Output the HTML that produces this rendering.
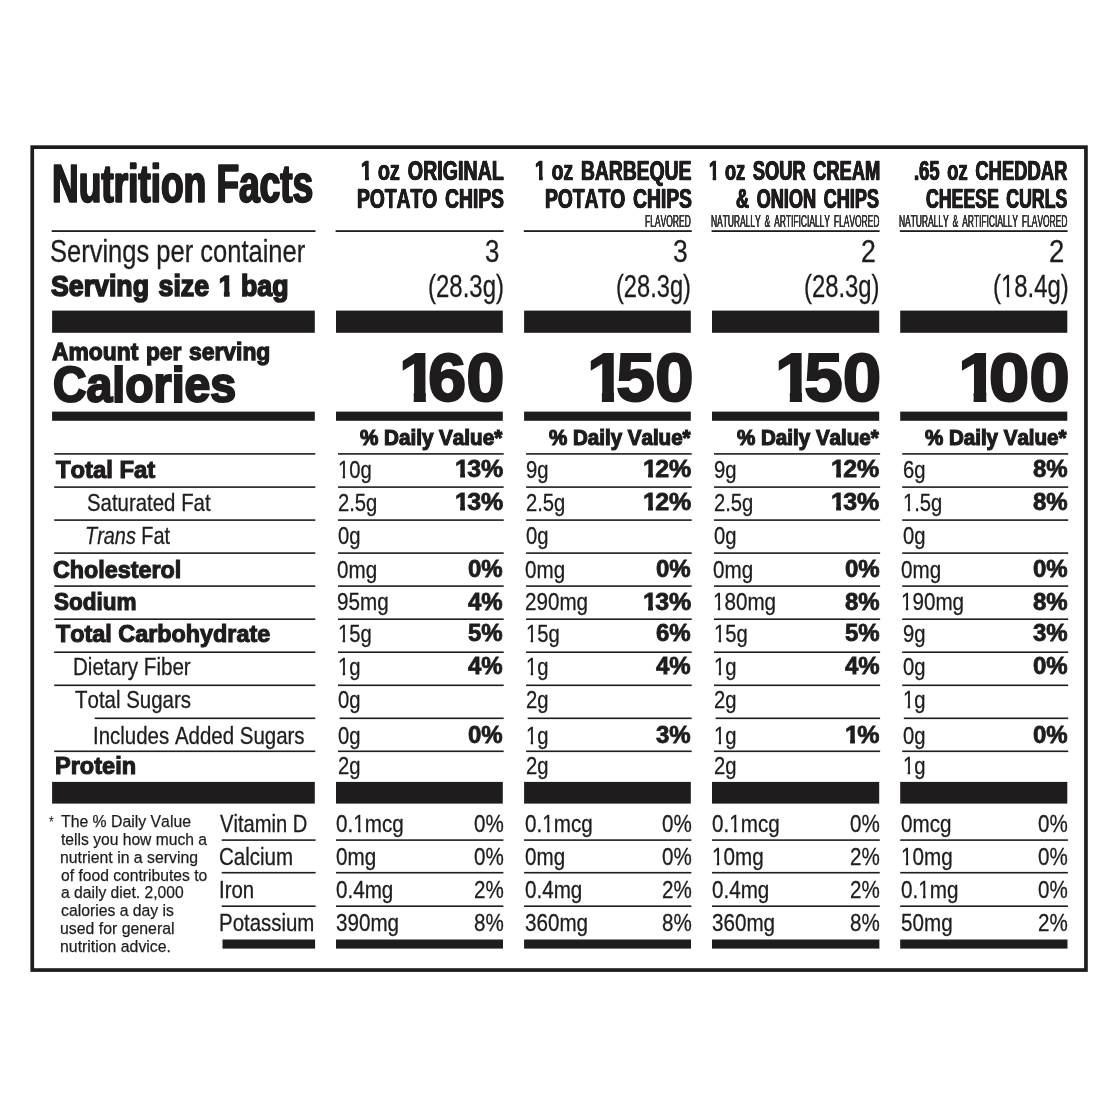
<!DOCTYPE html>
<html lang="en"><head><meta charset="utf-8"><title>Nutrition Facts</title>
<style>
html,body{margin:0;padding:0;background:#fff}
body{width:1118px;height:1118px;position:relative;overflow:hidden;font-family:"Liberation Sans",Arial,Helvetica,sans-serif;color:#1f1c1d;font-kerning:none}
.label{position:absolute;left:0;top:0;width:1118px;height:1118px;will-change:transform}
.rules{position:absolute;left:0;top:0}
.t{position:absolute;white-space:pre;transform-origin:0 0;line-height:1;margin:0}
.b{font-weight:bold}.i{font-style:italic}
.one{display:inline-block}
</style></head><body>
<div class="label">
<svg class="rules" width="1118" height="1118" viewBox="0 0 1118 1118" fill="#1f1c1d">
<rect x="51.70" y="230.20" width="263.80" height="1.80"/>
<rect x="335.60" y="230.20" width="168.00" height="1.80"/>
<rect x="523.80" y="230.20" width="168.00" height="1.80"/>
<rect x="711.60" y="230.20" width="168.00" height="1.80"/>
<rect x="899.90" y="230.20" width="167.70" height="1.80"/>
<rect x="52.10" y="310.60" width="262.70" height="22.20"/>
<rect x="336.00" y="310.60" width="166.80" height="22.20"/>
<rect x="524.10" y="310.60" width="166.70" height="22.20"/>
<rect x="712.00" y="310.60" width="167.20" height="22.20"/>
<rect x="900.20" y="310.60" width="167.10" height="22.20"/>
<rect x="52.10" y="411.60" width="262.70" height="9.20"/>
<rect x="336.00" y="411.60" width="166.80" height="9.20"/>
<rect x="524.10" y="411.60" width="166.70" height="9.20"/>
<rect x="712.00" y="411.60" width="167.20" height="9.20"/>
<rect x="900.20" y="411.60" width="167.10" height="9.20"/>
<rect x="54.20" y="453.10" width="261.10" height="1.60"/>
<rect x="338.00" y="453.10" width="165.70" height="1.60"/>
<rect x="526.10" y="453.10" width="165.60" height="1.60"/>
<rect x="714.00" y="453.10" width="166.10" height="1.60"/>
<rect x="902.20" y="453.10" width="166.00" height="1.60"/>
<rect x="54.20" y="486.30" width="261.10" height="1.60"/>
<rect x="338.00" y="486.30" width="165.70" height="1.60"/>
<rect x="526.10" y="486.30" width="165.60" height="1.60"/>
<rect x="714.00" y="486.30" width="166.10" height="1.60"/>
<rect x="902.20" y="486.30" width="166.00" height="1.60"/>
<rect x="54.20" y="519.30" width="261.10" height="1.60"/>
<rect x="338.00" y="519.30" width="165.70" height="1.60"/>
<rect x="526.10" y="519.30" width="165.60" height="1.60"/>
<rect x="714.00" y="519.30" width="166.10" height="1.60"/>
<rect x="902.20" y="519.30" width="166.00" height="1.60"/>
<rect x="54.20" y="552.30" width="261.10" height="1.60"/>
<rect x="338.00" y="552.30" width="165.70" height="1.60"/>
<rect x="526.10" y="552.30" width="165.60" height="1.60"/>
<rect x="714.00" y="552.30" width="166.10" height="1.60"/>
<rect x="902.20" y="552.30" width="166.00" height="1.60"/>
<rect x="54.20" y="585.30" width="261.10" height="1.60"/>
<rect x="338.00" y="585.30" width="165.70" height="1.60"/>
<rect x="526.10" y="585.30" width="165.60" height="1.60"/>
<rect x="714.00" y="585.30" width="166.10" height="1.60"/>
<rect x="902.20" y="585.30" width="166.00" height="1.60"/>
<rect x="54.20" y="618.40" width="261.10" height="1.60"/>
<rect x="338.00" y="618.40" width="165.70" height="1.60"/>
<rect x="526.10" y="618.40" width="165.60" height="1.60"/>
<rect x="714.00" y="618.40" width="166.10" height="1.60"/>
<rect x="902.20" y="618.40" width="166.00" height="1.60"/>
<rect x="54.20" y="651.40" width="261.10" height="1.60"/>
<rect x="338.00" y="651.40" width="165.70" height="1.60"/>
<rect x="526.10" y="651.40" width="165.60" height="1.60"/>
<rect x="714.00" y="651.40" width="166.10" height="1.60"/>
<rect x="902.20" y="651.40" width="166.00" height="1.60"/>
<rect x="54.20" y="684.50" width="261.10" height="1.60"/>
<rect x="338.00" y="684.50" width="165.70" height="1.60"/>
<rect x="526.10" y="684.50" width="165.60" height="1.60"/>
<rect x="714.00" y="684.50" width="166.10" height="1.60"/>
<rect x="902.20" y="684.50" width="166.00" height="1.60"/>
<rect x="94.70" y="717.50" width="220.60" height="1.60"/>
<rect x="339.60" y="717.50" width="164.10" height="1.60"/>
<rect x="527.70" y="717.50" width="164.00" height="1.60"/>
<rect x="715.60" y="717.50" width="164.50" height="1.60"/>
<rect x="903.80" y="717.50" width="164.40" height="1.60"/>
<rect x="54.20" y="750.50" width="261.10" height="1.60"/>
<rect x="338.00" y="750.50" width="165.70" height="1.60"/>
<rect x="526.10" y="750.50" width="165.60" height="1.60"/>
<rect x="714.00" y="750.50" width="166.10" height="1.60"/>
<rect x="902.20" y="750.50" width="166.00" height="1.60"/>
<rect x="52.10" y="781.90" width="262.70" height="21.70"/>
<rect x="336.00" y="781.90" width="166.80" height="21.70"/>
<rect x="524.10" y="781.90" width="166.70" height="21.70"/>
<rect x="712.00" y="781.90" width="167.20" height="21.70"/>
<rect x="900.20" y="781.90" width="167.10" height="21.70"/>
<rect x="221.70" y="839.30" width="93.90" height="1.60"/>
<rect x="336.00" y="839.30" width="167.40" height="1.60"/>
<rect x="524.10" y="839.30" width="167.30" height="1.60"/>
<rect x="712.00" y="839.30" width="167.80" height="1.60"/>
<rect x="900.20" y="839.30" width="167.70" height="1.60"/>
<rect x="221.70" y="871.90" width="93.90" height="1.60"/>
<rect x="336.00" y="871.90" width="167.40" height="1.60"/>
<rect x="524.10" y="871.90" width="167.30" height="1.60"/>
<rect x="712.00" y="871.90" width="167.80" height="1.60"/>
<rect x="900.20" y="871.90" width="167.70" height="1.60"/>
<rect x="221.70" y="905.40" width="93.90" height="1.60"/>
<rect x="336.00" y="905.40" width="167.40" height="1.60"/>
<rect x="524.10" y="905.40" width="167.30" height="1.60"/>
<rect x="712.00" y="905.40" width="167.80" height="1.60"/>
<rect x="900.20" y="905.40" width="167.70" height="1.60"/>
<rect x="222.50" y="939.50" width="92.60" height="9.10"/>
<rect x="336.00" y="939.50" width="167.00" height="9.10"/>
<rect x="524.10" y="939.50" width="166.90" height="9.10"/>
<rect x="712.00" y="939.50" width="167.40" height="9.10"/>
<rect x="900.20" y="939.50" width="167.30" height="9.10"/>
<rect x="32.25" y="147.15" width="1053.7" height="822.9" fill="none" stroke="#1f1c1d" stroke-width="3.7"/>
</svg>
<div class="t b" style="left:51.97px;top:156px;font-size:54.10px;transform:scaleX(0.6843);-webkit-text-stroke:1.60px #1f1c1d;text-shadow:1.17px 0 0 #1f1c1d,-1.17px 0 0 #1f1c1d">Nutrition Facts</div>
<div class="t b" style="left:360.67px;top:157px;font-size:27.40px;transform:scaleX(0.7179);-webkit-text-stroke:0.60px #1f1c1d;text-shadow:0.56px 0 0 #1f1c1d,-0.56px 0 0 #1f1c1d;word-spacing:3.48px"><span class="one" style="clip-path:polygon(-9px -9px,10.75px -9px,10.75px 37.40px,5.80px 37.40px,5.80px 18.80px,-9px 18.80px);margin-right:-0.100em">1</span> oz ORIGINAL</div>
<div class="t b" style="left:535.49px;top:157px;font-size:27.40px;transform:scaleX(0.7046);-webkit-text-stroke:0.60px #1f1c1d;text-shadow:0.57px 0 0 #1f1c1d,-0.57px 0 0 #1f1c1d;word-spacing:3.55px"><span class="one" style="clip-path:polygon(-9px -9px,10.75px -9px,10.75px 37.40px,5.80px 37.40px,5.80px 18.80px,-9px 18.80px);margin-right:-0.100em">1</span> oz BARBEQUE</div>
<div class="t b" style="left:708.65px;top:157px;font-size:27.40px;transform:scaleX(0.6674);-webkit-text-stroke:0.60px #1f1c1d;text-shadow:0.60px 0 0 #1f1c1d,-0.60px 0 0 #1f1c1d;word-spacing:3.75px"><span class="one" style="clip-path:polygon(-9px -9px,10.75px -9px,10.75px 37.40px,5.80px 37.40px,5.80px 18.80px,-9px 18.80px);margin-right:-0.100em">1</span> oz SOUR CREAM</div>
<div class="t b" style="left:913.95px;top:157px;font-size:27.40px;transform:scaleX(0.6724);-webkit-text-stroke:0.60px #1f1c1d;text-shadow:0.59px 0 0 #1f1c1d,-0.59px 0 0 #1f1c1d;word-spacing:3.72px">.65 oz CHEDDAR</div>
<div class="t b" style="left:357.02px;top:185px;font-size:27.40px;transform:scaleX(0.7032);-webkit-text-stroke:0.60px #1f1c1d;text-shadow:0.57px 0 0 #1f1c1d,-0.57px 0 0 #1f1c1d;word-spacing:3.56px">POTATO CHIPS</div>
<div class="t b" style="left:544.92px;top:185px;font-size:27.40px;transform:scaleX(0.7032);-webkit-text-stroke:0.60px #1f1c1d;text-shadow:0.57px 0 0 #1f1c1d,-0.57px 0 0 #1f1c1d;word-spacing:3.56px">POTATO CHIPS</div>
<div class="t b" style="left:736.30px;top:185px;font-size:27.40px;transform:scaleX(0.6622);-webkit-text-stroke:0.60px #1f1c1d;text-shadow:0.60px 0 0 #1f1c1d,-0.60px 0 0 #1f1c1d;word-spacing:3.78px">&amp; ONION CHIPS</div>
<div class="t b" style="left:926.37px;top:185px;font-size:27.40px;transform:scaleX(0.6467);-webkit-text-stroke:0.60px #1f1c1d;text-shadow:0.62px 0 0 #1f1c1d,-0.62px 0 0 #1f1c1d;word-spacing:3.87px">CHEESE CURLS</div>
<div class="t" style="left:645.33px;top:214px;font-size:16.80px;transform:scaleX(0.5064);color:#343132;-webkit-text-stroke:0.10px #343132;text-shadow:0.20px 0 0 #343132,-0.20px 0 0 #343132">FLAVORED</div>
<div class="t" style="left:711.03px;top:214px;font-size:16.80px;transform:scaleX(0.5026);color:#343132;-webkit-text-stroke:0.10px #343132;text-shadow:0.20px 0 0 #343132,-0.20px 0 0 #343132;word-spacing:3.18px">NATURALLY &amp; ARTIFICIALLY FLAVORED</div>
<div class="t" style="left:899.33px;top:214px;font-size:16.80px;transform:scaleX(0.5026);color:#343132;-webkit-text-stroke:0.10px #343132;text-shadow:0.20px 0 0 #343132,-0.20px 0 0 #343132;word-spacing:3.18px">NATURALLY &amp; ARTIFICIALLY FLAVORED</div>
<div class="t" style="left:50.16px;top:235px;font-size:32.00px;transform:scaleX(0.7972);-webkit-text-stroke:0.30px #1f1c1d">Servings per container</div>
<div class="t b" style="left:51.18px;top:270px;font-size:30.40px;transform:scaleX(0.8788);-webkit-text-stroke:1.70px #1f1c1d;word-spacing:2.50px">Serving size <span class="one" style="clip-path:polygon(-9px -9px,12.42px -9px,12.42px 40.40px,5.95px 40.40px,5.95px 20.95px,-9px 20.95px);margin-right:-0.080em">1</span> bag</div>
<div class="t" style="left:485.14px;top:235px;font-size:32.00px;transform:scaleX(0.8079);-webkit-text-stroke:0.30px #1f1c1d">3</div>
<div class="t" style="left:673.02px;top:235px;font-size:32.00px;transform:scaleX(0.8273);-webkit-text-stroke:0.30px #1f1c1d">3</div>
<div class="t" style="left:861.08px;top:235px;font-size:32.00px;transform:scaleX(0.8334);-webkit-text-stroke:0.30px #1f1c1d">2</div>
<div class="t" style="left:1049.34px;top:235px;font-size:32.00px;transform:scaleX(0.8603);-webkit-text-stroke:0.30px #1f1c1d">2</div>
<div class="t" style="left:428.33px;top:270px;font-size:32.00px;transform:scaleX(0.7491);-webkit-text-stroke:0.30px #1f1c1d">(28.3g)</div>
<div class="t" style="left:616.44px;top:270px;font-size:32.00px;transform:scaleX(0.7388);-webkit-text-stroke:0.30px #1f1c1d">(28.3g)</div>
<div class="t" style="left:804.33px;top:270px;font-size:32.00px;transform:scaleX(0.7450);-webkit-text-stroke:0.30px #1f1c1d">(28.3g)</div>
<div class="t" style="left:992.63px;top:270px;font-size:32.00px;transform:scaleX(0.7480);-webkit-text-stroke:0.30px #1f1c1d">(<span class="one" style="clip-path:polygon(-9px -9px,11.32px -9px,11.32px 42.00px,7.60px 42.00px,7.60px 23.36px,-9px 23.36px)">1</span>8.4g)</div>
<div class="t b" style="left:52.24px;top:340px;font-size:24.50px;transform:scaleX(0.9320);-webkit-text-stroke:1.30px #1f1c1d;word-spacing:1.39px">Amount per serving</div>
<div class="t b" style="left:52.82px;top:361px;font-size:49.80px;transform:scaleX(0.9320);-webkit-text-stroke:2.20px #1f1c1d">Calories</div>
<div class="t b" style="left:399.09px;top:343px;font-size:69.00px;transform:scaleX(0.9984);-webkit-text-stroke:2.00px #1f1c1d"><span class="one" style="clip-path:polygon(-9px -9px,26.87px -9px,26.87px 79.00px,14.80px 79.00px,14.80px 48.86px,-9px 48.86px);margin-right:-0.135em">1</span>60</div>
<div class="t b" style="left:586.65px;top:343px;font-size:69.00px;transform:scaleX(1.0074);-webkit-text-stroke:2.00px #1f1c1d"><span class="one" style="clip-path:polygon(-9px -9px,26.87px -9px,26.87px 79.00px,14.80px 79.00px,14.80px 48.86px,-9px 48.86px);margin-right:-0.135em">1</span>50</div>
<div class="t b" style="left:775.17px;top:343px;font-size:69.00px;transform:scaleX(1.0034);-webkit-text-stroke:2.00px #1f1c1d"><span class="one" style="clip-path:polygon(-9px -9px,26.87px -9px,26.87px 79.00px,14.80px 79.00px,14.80px 48.86px,-9px 48.86px);margin-right:-0.135em">1</span>50</div>
<div class="t b" style="left:957.76px;top:343px;font-size:69.00px;transform:scaleX(1.0582);-webkit-text-stroke:2.00px #1f1c1d"><span class="one" style="clip-path:polygon(-9px -9px,26.87px -9px,26.87px 79.00px,14.80px 79.00px,14.80px 48.86px,-9px 48.86px);margin-right:-0.135em">1</span>00</div>
<div class="t b" style="left:360.16px;top:428px;font-size:21.50px;transform:scaleX(0.9595);-webkit-text-stroke:1.20px #1f1c1d">% Daily Value*</div>
<div class="t b" style="left:548.96px;top:428px;font-size:21.50px;transform:scaleX(0.9555);-webkit-text-stroke:1.20px #1f1c1d">% Daily Value*</div>
<div class="t b" style="left:736.76px;top:428px;font-size:21.50px;transform:scaleX(0.9568);-webkit-text-stroke:1.20px #1f1c1d">% Daily Value*</div>
<div class="t b" style="left:925.06px;top:428px;font-size:21.50px;transform:scaleX(0.9548);-webkit-text-stroke:1.20px #1f1c1d">% Daily Value*</div>
<div class="t b" style="left:55.59px;top:459px;font-size:23.50px;transform:scaleX(1.0136);-webkit-text-stroke:1.10px #1f1c1d">Total Fat</div>
<div class="t" style="left:86.70px;top:491px;font-size:24.80px;transform:scaleX(0.8227);-webkit-text-stroke:0.30px #1f1c1d">Saturated Fat</div>
<div class="t" style="left:85.03px;top:524px;font-size:24.80px;transform:scaleX(0.8019);-webkit-text-stroke:0.30px #1f1c1d"><span class="i">Trans</span> Fat</div>
<div class="t b" style="left:53.29px;top:559px;font-size:23.50px;transform:scaleX(0.9918);-webkit-text-stroke:1.10px #1f1c1d">Cholesterol</div>
<div class="t b" style="left:53.58px;top:591px;font-size:23.50px;transform:scaleX(0.9586);-webkit-text-stroke:1.10px #1f1c1d">Sodium</div>
<div class="t b" style="left:55.88px;top:623px;font-size:23.50px;transform:scaleX(0.9941);-webkit-text-stroke:1.10px #1f1c1d">Total Carbohydrate</div>
<div class="t" style="left:73.04px;top:655px;font-size:24.80px;transform:scaleX(0.8290);-webkit-text-stroke:0.30px #1f1c1d">Dietary Fiber</div>
<div class="t" style="left:75.06px;top:688px;font-size:24.80px;transform:scaleX(0.8254);-webkit-text-stroke:0.30px #1f1c1d">Total Sugars</div>
<div class="t" style="left:92.94px;top:724px;font-size:24.80px;transform:scaleX(0.8251);-webkit-text-stroke:0.30px #1f1c1d">Includes Added Sugars</div>
<div class="t b" style="left:54.58px;top:755px;font-size:23.50px;transform:scaleX(1.0010);-webkit-text-stroke:1.10px #1f1c1d">Protein</div>
<div class="t" style="left:338.37px;top:458px;font-size:24.80px;transform:scaleX(0.8150);-webkit-text-stroke:0.30px #1f1c1d"><span class="one" style="clip-path:polygon(-9px -9px,8.88px -9px,8.88px 34.80px,5.79px 34.80px,5.79px 16.90px,-9px 16.90px)">1</span>0g</div>
<div class="t b" style="left:454.87px;top:457px;font-size:24.40px;transform:scaleX(1.0244);-webkit-text-stroke:0.80px #1f1c1d"><span class="one" style="clip-path:polygon(-9px -9px,9.74px -9px,9.74px 34.40px,4.99px 34.40px,4.99px 16.01px,-9px 16.01px);margin-right:-0.070em">1</span>3%</div>
<div class="t" style="left:338.37px;top:491px;font-size:24.80px;transform:scaleX(0.8150);-webkit-text-stroke:0.30px #1f1c1d">2.5g</div>
<div class="t b" style="left:454.87px;top:490px;font-size:24.40px;transform:scaleX(1.0244);-webkit-text-stroke:0.80px #1f1c1d"><span class="one" style="clip-path:polygon(-9px -9px,9.74px -9px,9.74px 34.40px,4.99px 34.40px,4.99px 16.01px,-9px 16.01px);margin-right:-0.070em">1</span>3%</div>
<div class="t" style="left:338.37px;top:524px;font-size:24.80px;transform:scaleX(0.8150);-webkit-text-stroke:0.30px #1f1c1d">0g</div>
<div class="t" style="left:336.97px;top:558px;font-size:24.80px;transform:scaleX(0.8320);-webkit-text-stroke:0.30px #1f1c1d">0mg</div>
<div class="t b" style="left:468.40px;top:557px;font-size:24.40px;transform:scaleX(0.9850);-webkit-text-stroke:0.80px #1f1c1d">0%</div>
<div class="t" style="left:336.97px;top:590px;font-size:24.80px;transform:scaleX(0.8320);-webkit-text-stroke:0.30px #1f1c1d">95mg</div>
<div class="t b" style="left:468.40px;top:590px;font-size:24.40px;transform:scaleX(0.9850);-webkit-text-stroke:0.80px #1f1c1d">4%</div>
<div class="t" style="left:338.37px;top:622px;font-size:24.80px;transform:scaleX(0.8150);-webkit-text-stroke:0.30px #1f1c1d"><span class="one" style="clip-path:polygon(-9px -9px,8.88px -9px,8.88px 34.80px,5.79px 34.80px,5.79px 16.90px,-9px 16.90px)">1</span>5g</div>
<div class="t b" style="left:468.40px;top:621px;font-size:24.40px;transform:scaleX(0.9850);-webkit-text-stroke:0.80px #1f1c1d">5%</div>
<div class="t" style="left:338.37px;top:655px;font-size:24.80px;transform:scaleX(0.8150);-webkit-text-stroke:0.30px #1f1c1d"><span class="one" style="clip-path:polygon(-9px -9px,8.88px -9px,8.88px 34.80px,5.79px 34.80px,5.79px 16.90px,-9px 16.90px)">1</span>g</div>
<div class="t b" style="left:468.40px;top:654px;font-size:24.40px;transform:scaleX(0.9850);-webkit-text-stroke:0.80px #1f1c1d">4%</div>
<div class="t" style="left:338.37px;top:688px;font-size:24.80px;transform:scaleX(0.8150);-webkit-text-stroke:0.30px #1f1c1d">0g</div>
<div class="t" style="left:338.37px;top:724px;font-size:24.80px;transform:scaleX(0.8150);-webkit-text-stroke:0.30px #1f1c1d">0g</div>
<div class="t b" style="left:468.40px;top:723px;font-size:24.40px;transform:scaleX(0.9850);-webkit-text-stroke:0.80px #1f1c1d">0%</div>
<div class="t" style="left:338.37px;top:754px;font-size:24.80px;transform:scaleX(0.8150);-webkit-text-stroke:0.30px #1f1c1d">2g</div>
<div class="t" style="left:526.47px;top:458px;font-size:24.80px;transform:scaleX(0.8150);-webkit-text-stroke:0.30px #1f1c1d">9g</div>
<div class="t b" style="left:642.87px;top:457px;font-size:24.40px;transform:scaleX(1.0244);-webkit-text-stroke:0.80px #1f1c1d"><span class="one" style="clip-path:polygon(-9px -9px,9.74px -9px,9.74px 34.40px,4.99px 34.40px,4.99px 16.01px,-9px 16.01px);margin-right:-0.070em">1</span>2%</div>
<div class="t" style="left:526.47px;top:491px;font-size:24.80px;transform:scaleX(0.8150);-webkit-text-stroke:0.30px #1f1c1d">2.5g</div>
<div class="t b" style="left:642.87px;top:490px;font-size:24.40px;transform:scaleX(1.0244);-webkit-text-stroke:0.80px #1f1c1d"><span class="one" style="clip-path:polygon(-9px -9px,9.74px -9px,9.74px 34.40px,4.99px 34.40px,4.99px 16.01px,-9px 16.01px);margin-right:-0.070em">1</span>2%</div>
<div class="t" style="left:526.47px;top:524px;font-size:24.80px;transform:scaleX(0.8150);-webkit-text-stroke:0.30px #1f1c1d">0g</div>
<div class="t" style="left:525.07px;top:558px;font-size:24.80px;transform:scaleX(0.8320);-webkit-text-stroke:0.30px #1f1c1d">0mg</div>
<div class="t b" style="left:656.40px;top:557px;font-size:24.40px;transform:scaleX(0.9850);-webkit-text-stroke:0.80px #1f1c1d">0%</div>
<div class="t" style="left:525.07px;top:590px;font-size:24.80px;transform:scaleX(0.8320);-webkit-text-stroke:0.30px #1f1c1d">290mg</div>
<div class="t b" style="left:642.87px;top:590px;font-size:24.40px;transform:scaleX(1.0244);-webkit-text-stroke:0.80px #1f1c1d"><span class="one" style="clip-path:polygon(-9px -9px,9.74px -9px,9.74px 34.40px,4.99px 34.40px,4.99px 16.01px,-9px 16.01px);margin-right:-0.070em">1</span>3%</div>
<div class="t" style="left:526.47px;top:622px;font-size:24.80px;transform:scaleX(0.8150);-webkit-text-stroke:0.30px #1f1c1d"><span class="one" style="clip-path:polygon(-9px -9px,8.88px -9px,8.88px 34.80px,5.79px 34.80px,5.79px 16.90px,-9px 16.90px)">1</span>5g</div>
<div class="t b" style="left:656.40px;top:621px;font-size:24.40px;transform:scaleX(0.9850);-webkit-text-stroke:0.80px #1f1c1d">6%</div>
<div class="t" style="left:526.47px;top:655px;font-size:24.80px;transform:scaleX(0.8150);-webkit-text-stroke:0.30px #1f1c1d"><span class="one" style="clip-path:polygon(-9px -9px,8.88px -9px,8.88px 34.80px,5.79px 34.80px,5.79px 16.90px,-9px 16.90px)">1</span>g</div>
<div class="t b" style="left:656.40px;top:654px;font-size:24.40px;transform:scaleX(0.9850);-webkit-text-stroke:0.80px #1f1c1d">4%</div>
<div class="t" style="left:526.47px;top:688px;font-size:24.80px;transform:scaleX(0.8150);-webkit-text-stroke:0.30px #1f1c1d">2g</div>
<div class="t" style="left:526.47px;top:724px;font-size:24.80px;transform:scaleX(0.8150);-webkit-text-stroke:0.30px #1f1c1d"><span class="one" style="clip-path:polygon(-9px -9px,8.88px -9px,8.88px 34.80px,5.79px 34.80px,5.79px 16.90px,-9px 16.90px)">1</span>g</div>
<div class="t b" style="left:656.40px;top:723px;font-size:24.40px;transform:scaleX(0.9850);-webkit-text-stroke:0.80px #1f1c1d">3%</div>
<div class="t" style="left:526.47px;top:754px;font-size:24.80px;transform:scaleX(0.8150);-webkit-text-stroke:0.30px #1f1c1d">2g</div>
<div class="t" style="left:714.37px;top:458px;font-size:24.80px;transform:scaleX(0.8150);-webkit-text-stroke:0.30px #1f1c1d">9g</div>
<div class="t b" style="left:831.27px;top:457px;font-size:24.40px;transform:scaleX(1.0244);-webkit-text-stroke:0.80px #1f1c1d"><span class="one" style="clip-path:polygon(-9px -9px,9.74px -9px,9.74px 34.40px,4.99px 34.40px,4.99px 16.01px,-9px 16.01px);margin-right:-0.070em">1</span>2%</div>
<div class="t" style="left:714.37px;top:491px;font-size:24.80px;transform:scaleX(0.8150);-webkit-text-stroke:0.30px #1f1c1d">2.5g</div>
<div class="t b" style="left:831.27px;top:490px;font-size:24.40px;transform:scaleX(1.0244);-webkit-text-stroke:0.80px #1f1c1d"><span class="one" style="clip-path:polygon(-9px -9px,9.74px -9px,9.74px 34.40px,4.99px 34.40px,4.99px 16.01px,-9px 16.01px);margin-right:-0.070em">1</span>3%</div>
<div class="t" style="left:714.37px;top:524px;font-size:24.80px;transform:scaleX(0.8150);-webkit-text-stroke:0.30px #1f1c1d">0g</div>
<div class="t" style="left:712.97px;top:558px;font-size:24.80px;transform:scaleX(0.8320);-webkit-text-stroke:0.30px #1f1c1d">0mg</div>
<div class="t b" style="left:844.80px;top:557px;font-size:24.40px;transform:scaleX(0.9850);-webkit-text-stroke:0.80px #1f1c1d">0%</div>
<div class="t" style="left:712.97px;top:590px;font-size:24.80px;transform:scaleX(0.8320);-webkit-text-stroke:0.30px #1f1c1d"><span class="one" style="clip-path:polygon(-9px -9px,8.88px -9px,8.88px 34.80px,5.79px 34.80px,5.79px 16.90px,-9px 16.90px)">1</span>80mg</div>
<div class="t b" style="left:844.80px;top:590px;font-size:24.40px;transform:scaleX(0.9850);-webkit-text-stroke:0.80px #1f1c1d">8%</div>
<div class="t" style="left:714.37px;top:622px;font-size:24.80px;transform:scaleX(0.8150);-webkit-text-stroke:0.30px #1f1c1d"><span class="one" style="clip-path:polygon(-9px -9px,8.88px -9px,8.88px 34.80px,5.79px 34.80px,5.79px 16.90px,-9px 16.90px)">1</span>5g</div>
<div class="t b" style="left:844.80px;top:621px;font-size:24.40px;transform:scaleX(0.9850);-webkit-text-stroke:0.80px #1f1c1d">5%</div>
<div class="t" style="left:714.37px;top:655px;font-size:24.80px;transform:scaleX(0.8150);-webkit-text-stroke:0.30px #1f1c1d"><span class="one" style="clip-path:polygon(-9px -9px,8.88px -9px,8.88px 34.80px,5.79px 34.80px,5.79px 16.90px,-9px 16.90px)">1</span>g</div>
<div class="t b" style="left:844.80px;top:654px;font-size:24.40px;transform:scaleX(0.9850);-webkit-text-stroke:0.80px #1f1c1d">4%</div>
<div class="t" style="left:714.37px;top:688px;font-size:24.80px;transform:scaleX(0.8150);-webkit-text-stroke:0.30px #1f1c1d">2g</div>
<div class="t" style="left:714.37px;top:724px;font-size:24.80px;transform:scaleX(0.8150);-webkit-text-stroke:0.30px #1f1c1d"><span class="one" style="clip-path:polygon(-9px -9px,8.88px -9px,8.88px 34.80px,5.79px 34.80px,5.79px 16.90px,-9px 16.90px)">1</span>g</div>
<div class="t b" style="left:845.17px;top:723px;font-size:24.40px;transform:scaleX(1.0244);-webkit-text-stroke:0.80px #1f1c1d"><span class="one" style="clip-path:polygon(-9px -9px,9.74px -9px,9.74px 34.40px,4.99px 34.40px,4.99px 16.01px,-9px 16.01px);margin-right:-0.070em">1</span>%</div>
<div class="t" style="left:714.37px;top:754px;font-size:24.80px;transform:scaleX(0.8150);-webkit-text-stroke:0.30px #1f1c1d">2g</div>
<div class="t" style="left:902.57px;top:458px;font-size:24.80px;transform:scaleX(0.8150);-webkit-text-stroke:0.30px #1f1c1d">6g</div>
<div class="t b" style="left:1032.90px;top:457px;font-size:24.40px;transform:scaleX(0.9850);-webkit-text-stroke:0.80px #1f1c1d">8%</div>
<div class="t" style="left:902.57px;top:491px;font-size:24.80px;transform:scaleX(0.8150);-webkit-text-stroke:0.30px #1f1c1d"><span class="one" style="clip-path:polygon(-9px -9px,8.88px -9px,8.88px 34.80px,5.79px 34.80px,5.79px 16.90px,-9px 16.90px)">1</span>.5g</div>
<div class="t b" style="left:1032.90px;top:490px;font-size:24.40px;transform:scaleX(0.9850);-webkit-text-stroke:0.80px #1f1c1d">8%</div>
<div class="t" style="left:902.57px;top:524px;font-size:24.80px;transform:scaleX(0.8150);-webkit-text-stroke:0.30px #1f1c1d">0g</div>
<div class="t" style="left:901.17px;top:558px;font-size:24.80px;transform:scaleX(0.8320);-webkit-text-stroke:0.30px #1f1c1d">0mg</div>
<div class="t b" style="left:1032.90px;top:557px;font-size:24.40px;transform:scaleX(0.9850);-webkit-text-stroke:0.80px #1f1c1d">0%</div>
<div class="t" style="left:901.17px;top:590px;font-size:24.80px;transform:scaleX(0.8320);-webkit-text-stroke:0.30px #1f1c1d"><span class="one" style="clip-path:polygon(-9px -9px,8.88px -9px,8.88px 34.80px,5.79px 34.80px,5.79px 16.90px,-9px 16.90px)">1</span>90mg</div>
<div class="t b" style="left:1032.90px;top:590px;font-size:24.40px;transform:scaleX(0.9850);-webkit-text-stroke:0.80px #1f1c1d">8%</div>
<div class="t" style="left:902.57px;top:622px;font-size:24.80px;transform:scaleX(0.8150);-webkit-text-stroke:0.30px #1f1c1d">9g</div>
<div class="t b" style="left:1032.90px;top:621px;font-size:24.40px;transform:scaleX(0.9850);-webkit-text-stroke:0.80px #1f1c1d">3%</div>
<div class="t" style="left:902.57px;top:655px;font-size:24.80px;transform:scaleX(0.8150);-webkit-text-stroke:0.30px #1f1c1d">0g</div>
<div class="t b" style="left:1032.90px;top:654px;font-size:24.40px;transform:scaleX(0.9850);-webkit-text-stroke:0.80px #1f1c1d">0%</div>
<div class="t" style="left:902.57px;top:688px;font-size:24.80px;transform:scaleX(0.8150);-webkit-text-stroke:0.30px #1f1c1d"><span class="one" style="clip-path:polygon(-9px -9px,8.88px -9px,8.88px 34.80px,5.79px 34.80px,5.79px 16.90px,-9px 16.90px)">1</span>g</div>
<div class="t" style="left:902.57px;top:724px;font-size:24.80px;transform:scaleX(0.8150);-webkit-text-stroke:0.30px #1f1c1d">0g</div>
<div class="t b" style="left:1032.90px;top:723px;font-size:24.40px;transform:scaleX(0.9850);-webkit-text-stroke:0.80px #1f1c1d">0%</div>
<div class="t" style="left:902.57px;top:754px;font-size:24.80px;transform:scaleX(0.8150);-webkit-text-stroke:0.30px #1f1c1d"><span class="one" style="clip-path:polygon(-9px -9px,8.88px -9px,8.88px 34.80px,5.79px 34.80px,5.79px 16.90px,-9px 16.90px)">1</span>g</div>
<div class="t" style="left:220.13px;top:812px;font-size:24.80px;transform:scaleX(0.8122);-webkit-text-stroke:0.30px #1f1c1d">Vitamin D</div>
<div class="t" style="left:219.18px;top:845px;font-size:24.80px;transform:scaleX(0.8278);-webkit-text-stroke:0.30px #1f1c1d">Calcium</div>
<div class="t" style="left:219.14px;top:878px;font-size:24.80px;transform:scaleX(0.8228);-webkit-text-stroke:0.30px #1f1c1d">Iron</div>
<div class="t" style="left:219.35px;top:911px;font-size:24.80px;transform:scaleX(0.8238);-webkit-text-stroke:0.30px #1f1c1d">Potassium</div>
<div class="t" style="left:336.47px;top:812px;font-size:24.80px;transform:scaleX(0.8320);-webkit-text-stroke:0.30px #1f1c1d">0.<span class="one" style="clip-path:polygon(-9px -9px,8.88px -9px,8.88px 34.80px,5.79px 34.80px,5.79px 16.90px,-9px 16.90px)">1</span>mcg</div>
<div class="t" style="left:473.96px;top:812px;font-size:24.80px;transform:scaleX(0.8300);-webkit-text-stroke:0.30px #1f1c1d">0%</div>
<div class="t" style="left:336.47px;top:845px;font-size:24.80px;transform:scaleX(0.8320);-webkit-text-stroke:0.30px #1f1c1d">0mg</div>
<div class="t" style="left:473.96px;top:845px;font-size:24.80px;transform:scaleX(0.8300);-webkit-text-stroke:0.30px #1f1c1d">0%</div>
<div class="t" style="left:336.47px;top:878px;font-size:24.80px;transform:scaleX(0.8320);-webkit-text-stroke:0.30px #1f1c1d">0.4mg</div>
<div class="t" style="left:473.96px;top:878px;font-size:24.80px;transform:scaleX(0.8300);-webkit-text-stroke:0.30px #1f1c1d">2%</div>
<div class="t" style="left:336.47px;top:911px;font-size:24.80px;transform:scaleX(0.8320);-webkit-text-stroke:0.30px #1f1c1d">390mg</div>
<div class="t" style="left:473.96px;top:911px;font-size:24.80px;transform:scaleX(0.8300);-webkit-text-stroke:0.30px #1f1c1d">8%</div>
<div class="t" style="left:524.57px;top:812px;font-size:24.80px;transform:scaleX(0.8320);-webkit-text-stroke:0.30px #1f1c1d">0.<span class="one" style="clip-path:polygon(-9px -9px,8.88px -9px,8.88px 34.80px,5.79px 34.80px,5.79px 16.90px,-9px 16.90px)">1</span>mcg</div>
<div class="t" style="left:661.96px;top:812px;font-size:24.80px;transform:scaleX(0.8300);-webkit-text-stroke:0.30px #1f1c1d">0%</div>
<div class="t" style="left:524.57px;top:845px;font-size:24.80px;transform:scaleX(0.8320);-webkit-text-stroke:0.30px #1f1c1d">0mg</div>
<div class="t" style="left:661.96px;top:845px;font-size:24.80px;transform:scaleX(0.8300);-webkit-text-stroke:0.30px #1f1c1d">0%</div>
<div class="t" style="left:524.57px;top:878px;font-size:24.80px;transform:scaleX(0.8320);-webkit-text-stroke:0.30px #1f1c1d">0.4mg</div>
<div class="t" style="left:661.96px;top:878px;font-size:24.80px;transform:scaleX(0.8300);-webkit-text-stroke:0.30px #1f1c1d">2%</div>
<div class="t" style="left:524.57px;top:911px;font-size:24.80px;transform:scaleX(0.8320);-webkit-text-stroke:0.30px #1f1c1d">360mg</div>
<div class="t" style="left:661.96px;top:911px;font-size:24.80px;transform:scaleX(0.8300);-webkit-text-stroke:0.30px #1f1c1d">8%</div>
<div class="t" style="left:712.47px;top:812px;font-size:24.80px;transform:scaleX(0.8320);-webkit-text-stroke:0.30px #1f1c1d">0.<span class="one" style="clip-path:polygon(-9px -9px,8.88px -9px,8.88px 34.80px,5.79px 34.80px,5.79px 16.90px,-9px 16.90px)">1</span>mcg</div>
<div class="t" style="left:850.36px;top:812px;font-size:24.80px;transform:scaleX(0.8300);-webkit-text-stroke:0.30px #1f1c1d">0%</div>
<div class="t" style="left:712.47px;top:845px;font-size:24.80px;transform:scaleX(0.8320);-webkit-text-stroke:0.30px #1f1c1d"><span class="one" style="clip-path:polygon(-9px -9px,8.88px -9px,8.88px 34.80px,5.79px 34.80px,5.79px 16.90px,-9px 16.90px)">1</span>0mg</div>
<div class="t" style="left:850.36px;top:845px;font-size:24.80px;transform:scaleX(0.8300);-webkit-text-stroke:0.30px #1f1c1d">2%</div>
<div class="t" style="left:712.47px;top:878px;font-size:24.80px;transform:scaleX(0.8320);-webkit-text-stroke:0.30px #1f1c1d">0.4mg</div>
<div class="t" style="left:850.36px;top:878px;font-size:24.80px;transform:scaleX(0.8300);-webkit-text-stroke:0.30px #1f1c1d">2%</div>
<div class="t" style="left:712.47px;top:911px;font-size:24.80px;transform:scaleX(0.8320);-webkit-text-stroke:0.30px #1f1c1d">360mg</div>
<div class="t" style="left:850.36px;top:911px;font-size:24.80px;transform:scaleX(0.8300);-webkit-text-stroke:0.30px #1f1c1d">8%</div>
<div class="t" style="left:900.67px;top:812px;font-size:24.80px;transform:scaleX(0.8320);-webkit-text-stroke:0.30px #1f1c1d">0mcg</div>
<div class="t" style="left:1038.46px;top:812px;font-size:24.80px;transform:scaleX(0.8300);-webkit-text-stroke:0.30px #1f1c1d">0%</div>
<div class="t" style="left:900.67px;top:845px;font-size:24.80px;transform:scaleX(0.8320);-webkit-text-stroke:0.30px #1f1c1d"><span class="one" style="clip-path:polygon(-9px -9px,8.88px -9px,8.88px 34.80px,5.79px 34.80px,5.79px 16.90px,-9px 16.90px)">1</span>0mg</div>
<div class="t" style="left:1038.46px;top:845px;font-size:24.80px;transform:scaleX(0.8300);-webkit-text-stroke:0.30px #1f1c1d">0%</div>
<div class="t" style="left:900.67px;top:878px;font-size:24.80px;transform:scaleX(0.8320);-webkit-text-stroke:0.30px #1f1c1d">0.<span class="one" style="clip-path:polygon(-9px -9px,8.88px -9px,8.88px 34.80px,5.79px 34.80px,5.79px 16.90px,-9px 16.90px)">1</span>mg</div>
<div class="t" style="left:1038.46px;top:878px;font-size:24.80px;transform:scaleX(0.8300);-webkit-text-stroke:0.30px #1f1c1d">0%</div>
<div class="t" style="left:900.67px;top:911px;font-size:24.80px;transform:scaleX(0.8320);-webkit-text-stroke:0.30px #1f1c1d">50mg</div>
<div class="t" style="left:1038.46px;top:911px;font-size:24.80px;transform:scaleX(0.8300);-webkit-text-stroke:0.30px #1f1c1d">2%</div>
<div class="t" style="left:48.71px;top:814px;font-size:17.40px;transform:scaleX(0.6914)">*</div>
<div class="t" style="left:61.06px;top:813px;font-size:17.40px;transform:scaleX(0.9085);-webkit-text-stroke:0.25px #1f1c1d">The % Daily Value</div>
<div class="t" style="left:61.18px;top:831px;font-size:17.40px;transform:scaleX(0.8993);-webkit-text-stroke:0.25px #1f1c1d">tells you how much a</div>
<div class="t" style="left:60.36px;top:849px;font-size:17.40px;transform:scaleX(0.9091);-webkit-text-stroke:0.25px #1f1c1d">nutrient in a serving</div>
<div class="t" style="left:60.75px;top:867px;font-size:17.40px;transform:scaleX(0.9008);-webkit-text-stroke:0.25px #1f1c1d">of food contributes to</div>
<div class="t" style="left:60.75px;top:884px;font-size:17.40px;transform:scaleX(0.9000);-webkit-text-stroke:0.25px #1f1c1d">a daily diet. 2,000</div>
<div class="t" style="left:60.74px;top:902px;font-size:17.40px;transform:scaleX(0.9059);-webkit-text-stroke:0.25px #1f1c1d">calories a day is</div>
<div class="t" style="left:60.38px;top:920px;font-size:17.40px;transform:scaleX(0.9110);-webkit-text-stroke:0.25px #1f1c1d">used for general</div>
<div class="t" style="left:60.36px;top:938px;font-size:17.40px;transform:scaleX(0.9114);-webkit-text-stroke:0.25px #1f1c1d">nutrition advice.</div>
</div>
</body></html>
